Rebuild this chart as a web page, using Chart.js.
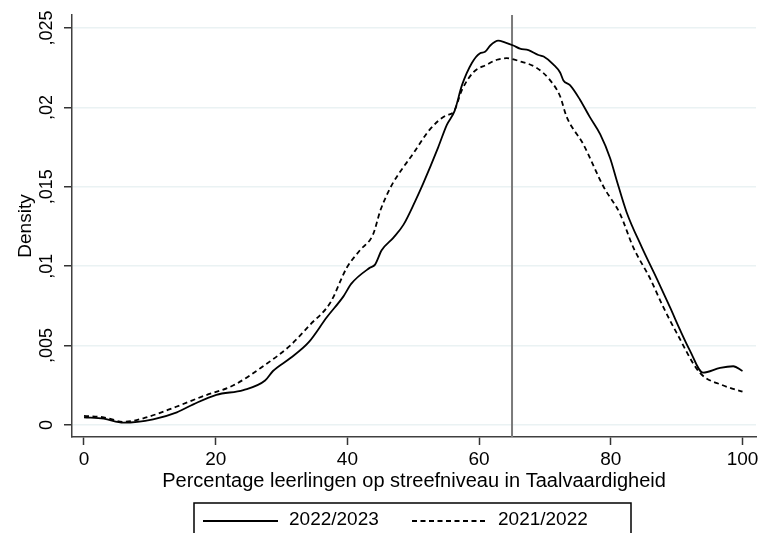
<!DOCTYPE html>
<html>
<head>
<meta charset="utf-8">
<script src="https://cdn.jsdelivr.net/npm/chart.js@4"></script>
<style>
    html, body { margin: 0; padding: 0; background: #fff; }
    canvas { display: block; }
</style>
</head>
<body>
<canvas id="densiteit" width="762" height="533"></canvas>
<script>
// kernel density, 2022/2023 (solid)
const x2223 = [0, 3, 6, 10.5, 14.1, 16.6, 20.1, 24.2, 27.5, 28.7, 31.3, 34.1, 36.9, 39.4, 40.6, 43.4, 44.2, 45.2, 47, 48.5,
    50.3, 51.5, 53.8, 55.1, 56.3, 57.4, 58.9, 60.1, 60.9, 61.7, 62.9, 63.9, 65.2, 66.2, 67.5, 69, 69.8, 71.3, 72.3, 72.8,
    73.8, 75.3, 76.8, 78.4, 79.9, 80.9, 82.4, 84.7, 87, 89, 90.5, 92, 94, 96.6, 98.6, 100];
const dens2223 = [0.00048, 0.0004, 0.00015, 0.00036, 0.0008, 0.0013, 0.0019, 0.0022, 0.0028, 0.0034, 0.0042, 0.0052, 0.0068, 0.0081, 0.0089, 0.0099, 0.0101, 0.0110, 0.0118, 0.0126,
    0.0141, 0.0152, 0.0175, 0.0189, 0.0198, 0.0214, 0.0228, 0.0234, 0.0235, 0.0239, 0.0242, 0.0241, 0.0239, 0.0237, 0.0236, 0.0233, 0.0232, 0.0227, 0.0222, 0.0217,
    0.0214, 0.0205, 0.0194, 0.0183, 0.0168, 0.0154, 0.0134, 0.0112, 0.0092, 0.0074, 0.0060, 0.0047, 0.0033, 0.0036, 0.0037, 0.0034];

// kernel density, 2021/2022 (dashed)
const x2122 = [0, 3, 6, 9, 14, 18, 22.7, 27.2, 31.3, 34.3, 37.4, 39.9, 41.9, 43.9, 45, 46, 47, 50, 52.5, 55,
    56.1, 57.4, 59.1, 61.2, 62.7, 64.2, 66.2, 68.7, 70.8, 72.3, 73.3, 75.8, 78.9, 81.4, 83.4, 86, 88, 90, 93.5, 97, 100];
const dens2122 = [0.00057, 0.00048, 0.0002, 0.00042, 0.00115, 0.0018, 0.0025, 0.0037, 0.005, 0.0063, 0.0077, 0.0099, 0.011, 0.012, 0.0135, 0.0145, 0.0153, 0.0171, 0.0186, 0.0195,
    0.0197, 0.0211, 0.0222, 0.0227, 0.0230, 0.0231, 0.0229, 0.0225, 0.0217, 0.0207, 0.0194, 0.0177, 0.0150, 0.0133, 0.0112, 0.0092, 0.0074, 0.0058, 0.0033, 0.0025, 0.0021];

const seriesLabels = ["2022/2023", "2021/2022"];
const xTicks = [0, 20, 40, 60, 80, 100];
const yTicks = [0, 0.005, 0.01, 0.015, 0.02, 0.025];
const yTickLabels = ["0", ",005", ",01", ",015", ",02", ",025"];
const streefniveau = 65;

const FONT = "'Liberation Sans', Arial, Helvetica, sans-serif";

function toPoints(xs, ys) {
    return xs.map((x, i) => ({ x: x, y: ys[i] }));
}

// vertical reference line at the target level
const refLinePlugin = {
    id: "refLine",
    beforeDatasetsDraw(chart) {
        const c = chart.ctx;
        const area = chart.chartArea;
        const px = chart.scales.x.getPixelForValue(streefniveau);
        c.save();
        c.strokeStyle = "#7a7a7a";
        c.lineWidth = 2;
        c.beginPath();
        c.moveTo(px, area.top);
        c.lineTo(px, area.bottom);
        c.stroke();
        c.restore();
    },
};

// boxed legend under the axis title
const boxLegendPlugin = {
    id: "boxLegend",
    afterDraw(chart) {
        const c = chart.ctx;
        c.save();
        c.strokeStyle = "#000";
        c.lineWidth = 1.5;
        c.strokeRect(194, 503, 437, 45);
        c.font = "19px " + FONT;
        c.textBaseline = "middle";
        c.textAlign = "left";
        chart.data.datasets.forEach((ds, i) => {
            const x0 = 203 + i * 209;
            c.strokeStyle = ds.borderColor;
            c.lineWidth = ds.borderWidth;
            c.setLineDash(ds.borderDash || []);
            c.beginPath();
            c.moveTo(x0, 521);
            c.lineTo(x0 + 75, 521);
            c.stroke();
            c.setLineDash([]);
            c.fillStyle = "#000";
            c.fillText(ds.label, x0 + 86, 519.5);
        });
        c.restore();
    },
};

var ctx = document.getElementById("densiteit");
var myChart = new Chart(ctx, {
    type: "line",
    data: {
        datasets: [
            {
                label: seriesLabels[0],
                data: toPoints(x2223, dens2223),
                borderColor: "#000",
                borderWidth: 1.8,
                pointRadius: 0,
                fill: false,
                cubicInterpolationMode: "monotone",
            },
            {
                label: seriesLabels[1],
                data: toPoints(x2122, dens2122),
                borderColor: "#000",
                borderWidth: 1.8,
                borderDash: [5, 3.5],
                pointRadius: 0,
                fill: false,
                cubicInterpolationMode: "monotone",
            },
        ],
    },
    options: {
        responsive: false,
        animation: false,
        layout: {
            padding: { left: 0, right: 6, top: 15, bottom: 36 },
        },
        plugins: {
            legend: { display: false },
            tooltip: { enabled: false },
        },
        scales: {
            x: {
                type: "linear",
                min: -1.822,
                max: 102.05,
                afterBuildTicks: (scale) => {
                    scale.ticks = xTicks.map((v) => ({ value: v }));
                },
                afterFit: (scale) => {
                    scale.height = 60;
                },
                grid: {
                    drawOnChartArea: false,
                    drawTicks: true,
                    tickLength: 8,
                    tickColor: "#333",
                    tickWidth: 1.5,
                },
                border: { display: true, color: "#404040", width: 1.5 },
                ticks: {
                    color: "#000",
                    padding: 3,
                    maxRotation: 0,
                    font: { family: FONT, size: 19 },
                    callback: (v) => String(v),
                },
                title: {
                    display: true,
                    text: "Percentage leerlingen op streefniveau in Taalvaardigheid",
                    color: "#000",
                    font: { family: FONT, size: 20 },
                    padding: { top: 0, bottom: 4 },
                },
            },
            y: {
                type: "linear",
                min: -0.000756,
                max: 0.025818,
                afterBuildTicks: (scale) => {
                    scale.ticks = yTicks.map((v) => ({ value: v }));
                },
                afterFit: (scale) => {
                    scale.width = 72;
                },
                grid: {
                    color: "#eaf2f3",
                    lineWidth: 1.5,
                    drawTicks: true,
                    tickLength: 8,
                    tickColor: "#333",
                    tickWidth: 1.5,
                },
                border: { display: true, color: "#404040", width: 1.5 },
                ticks: {
                    color: "#000",
                    padding: -1,
                    minRotation: 90,
                    maxRotation: 90,
                    crossAlign: "center",
                    font: { family: FONT, size: 18 },
                    callback: (v) => {
                        const i = yTicks.indexOf(v);
                        return i >= 0 ? yTickLabels[i] : "";
                    },
                },
                title: {
                    display: true,
                    text: "Density",
                    color: "#000",
                    font: { family: FONT, size: 19 },
                    padding: { top: 14, bottom: 0 },
                },
            },
        },
    },
    plugins: [refLinePlugin, boxLegendPlugin],
});
</script>
</body>
</html>
